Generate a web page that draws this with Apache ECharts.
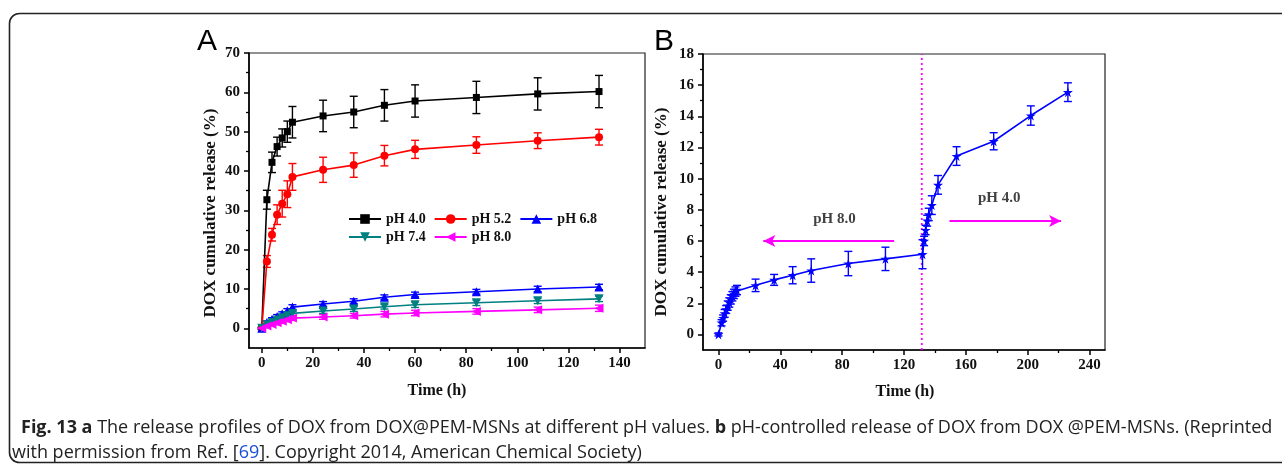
<!DOCTYPE html>
<html><head><meta charset="utf-8">
<script src="https://cdn.jsdelivr.net/npm/echarts@6/dist/echarts.min.js"></script>
<style>html,body{margin:0;padding:0;background:#fff}#c{width:1282px;height:470px}</style>
</head><body><div id="c"></div>
<script>
// ---------- Panel A data ----------
const timeA = [0, 2, 4, 6, 8, 10, 12, 24, 36, 48, 60, 84, 108, 132];
const ph40 = [0, 32.7, 42.2, 46.2, 48.4, 50.0, 52.4, 54.0, 55.0, 56.7, 57.8, 58.7, 59.6, 60.2];
const ph40Err = [0.3, 2.4, 2.6, 2.4, 2.3, 2.7, 4.0, 4.0, 4.0, 4.0, 4.1, 4.1, 4.1, 4.1];
const ph52 = [0, 17.0, 23.8, 28.9, 31.7, 34.1, 38.5, 40.3, 41.5, 43.9, 45.5, 46.6, 47.7, 48.6];
const ph52Err = [0.3, 1.5, 1.6, 2.5, 3.4, 3.4, 3.4, 3.2, 3.1, 2.6, 2.3, 2.1, 2.0, 2.0];
const ph68 = [0, 1.5, 2.3, 3.0, 3.7, 4.5, 5.4, 6.2, 6.9, 7.9, 8.6, 9.3, 10.0, 10.5];
const ph68Err = [0.2, 0.4, 0.4, 0.5, 0.5, 0.5, 0.6, 0.6, 0.6, 0.6, 0.6, 0.6, 0.7, 0.7];
const ph74 = [0, 0.9, 1.5, 2.1, 2.7, 3.2, 3.8, 4.4, 4.9, 5.5, 6.0, 6.5, 7.0, 7.5];
const ph74Err = [0.2, 0.4, 0.4, 0.5, 0.5, 0.5, 0.6, 0.6, 0.6, 0.6, 0.7, 0.7, 0.7, 0.7];
const ph80 = [0, 0.6, 1.0, 1.4, 1.8, 2.2, 2.6, 2.9, 3.2, 3.6, 3.9, 4.3, 4.7, 5.1];
const ph80Err = [0.2, 0.4, 0.4, 0.5, 0.5, 0.5, 0.6, 0.6, 0.6, 0.7, 0.7, 0.7, 0.7, 0.8];
const seriesNamesA = ['pH 4.0', 'pH 5.2', 'pH 6.8', 'pH 7.4', 'pH 8.0'];
const xTicksA = [0, 20, 40, 60, 80, 100, 120, 140];
const xMinorA = [10, 30, 50, 70, 90, 110, 130];
const yTicksA = [0, 10, 20, 30, 40, 50, 60, 70];
const yMinorA = [5, 15, 25, 35, 45, 55, 65];

// ---------- Panel B data ----------
const timeB = [0, 2, 3, 4, 5, 6, 7, 8, 9, 10, 11, 12, 24, 36, 48, 60, 84, 108, 132, 133, 134, 135, 136, 138, 142, 154, 178, 202, 226];
const releaseB = [0, 0.75, 1.05, 1.35, 1.6, 1.85, 2.05, 2.25, 2.45, 2.6, 2.75, 2.85, 3.15, 3.5, 3.8, 4.1, 4.55, 4.85, 5.15, 6.0, 6.7, 7.3, 7.7, 8.3, 9.6, 11.45, 12.4, 14.05, 15.55];
const errB = [0.1, 0.2, 0.2, 0.25, 0.25, 0.3, 0.3, 0.3, 0.3, 0.3, 0.3, 0.3, 0.4, 0.35, 0.55, 0.75, 0.78, 0.75, 0.93, 0.3, 0.3, 0.35, 0.4, 0.6, 0.6, 0.6, 0.55, 0.62, 0.6];
const xTicksB = [0, 40, 80, 120, 160, 200, 240];
const xMinorB = [20, 60, 100, 140, 180, 220];
const yTicksB = [0, 2, 4, 6, 8, 10, 12, 14, 16, 18];
const yMinorB = [1, 3, 5, 7, 9, 11, 13, 15, 17];
const switchTime = 131.5;
const arrowPH8 = [113.6, 29, 6.0];   // from x, to x, y
const arrowPH4 = [149.4, 221.6, 7.28];
const labelPH8 = [75, 7.4, 'pH 8.0'];
const labelPH4 = [181.6, 8.72, 'pH 4.0'];

const SERIF = '"Liberation Serif","Times New Roman",serif';
const colorsA = ['#000000', '#ff0000', '#0000ff', '#008080', '#ff00ff'];
const symbolsA = ['rect', 'circle', 'triangle', 'path://M0,0 L10,0 L5,9 Z', 'path://M0,5 L9,0 L9,10 Z'];
const symbolSizesA = [7, 8, 9, 9, 9];
const valsA = [ph40, ph52, ph68, ph74, ph80];
const errsA = [ph40Err, ph52Err, ph68Err, ph74Err, ph80Err];
const STAR = 'path://M50,0 L61,35 L98,35 L68,57 L79,91 L50,70 L21,91 L32,57 L2,35 L39,35 Z';

function errRender(color) {
  return function (params, api) {
    const x = api.value(0), y = api.value(1), e = api.value(2);
    const top = api.coord([x, y + e]), bot = api.coord([x, y - e]);
    const w = 4;
    const st = { stroke: color, lineWidth: 1.4 };
    return { type: 'group', children: [
      { type: 'line', shape: { x1: top[0], y1: top[1], x2: bot[0], y2: bot[1] }, style: st },
      { type: 'line', shape: { x1: top[0] - w, y1: top[1], x2: top[0] + w, y2: top[1] }, style: st },
      { type: 'line', shape: { x1: bot[0] - w, y1: bot[1], x2: bot[0] + w, y2: bot[1] }, style: st }
    ] };
  };
}

function mainX(grid, min, max, ticks) {
  return { type: 'value', gridIndex: grid, min: min, max: max, position: 'bottom',
    axisLine: { show: true, onZero: false, lineStyle: { color: '#000', width: 1.6 } },
    axisTick: { show: true, inside: false, length: 5, customValues: ticks, lineStyle: { color: '#000', width: 1.5 } },
    axisLabel: { show: true, customValues: ticks, margin: 8, color: '#111', fontFamily: SERIF, fontWeight: 'bold', fontSize: 15 },
    splitLine: { show: false } };
}
function minorX(grid, min, max, ticks) {
  return { type: 'value', gridIndex: grid, min: min, max: max, position: 'bottom',
    axisLine: { show: false, onZero: false },
    axisTick: { show: true, inside: false, length: 3, customValues: ticks, lineStyle: { color: '#000', width: 1.3 } },
    axisLabel: { show: false }, splitLine: { show: false } };
}
function mainY(grid, min, max, ticks) {
  return { type: 'value', gridIndex: grid, min: min, max: max, position: 'left',
    axisLine: { show: true, onZero: false, lineStyle: { color: '#000', width: 1.6 } },
    axisTick: { show: true, inside: false, length: 5, customValues: ticks, lineStyle: { color: '#000', width: 1.5 } },
    axisLabel: { show: true, customValues: ticks, margin: 9, color: '#111', fontFamily: SERIF, fontWeight: 'bold', fontSize: 15 },
    splitLine: { show: false } };
}
function minorY(grid, min, max, ticks) {
  return { type: 'value', gridIndex: grid, min: min, max: max, position: 'left',
    axisLine: { show: false, onZero: false },
    axisTick: { show: true, inside: false, length: 3, customValues: ticks, lineStyle: { color: '#000', width: 1.3 } },
    axisLabel: { show: false }, splitLine: { show: false } };
}

const series = [];
valsA.forEach(function (vals, i) {
  series.push({
    name: seriesNamesA[i], type: 'line', xAxisIndex: 0, yAxisIndex: 0,
    data: timeA.map(function (t, k) { return [t, vals[k]]; }),
    symbol: symbolsA[i], symbolSize: symbolSizesA[i],
    lineStyle: { color: colorsA[i], width: 1.6 }, itemStyle: { color: colorsA[i] },
    z: 3, animation: false
  });
  series.push({
    name: seriesNamesA[i] + ' err', type: 'custom', xAxisIndex: 0, yAxisIndex: 0,
    data: timeA.map(function (t, k) { return [t, vals[k], errsA[i][k]]; }),
    renderItem: errRender(colorsA[i]), z: 2, animation: false, silent: true
  });
});
// Panel B
series.push({
  name: 'B', type: 'line', xAxisIndex: 2, yAxisIndex: 2,
  data: timeB.map(function (t, k) { return [t, releaseB[k]]; }),
  symbol: STAR, symbolSize: 10,
  lineStyle: { color: '#0000ff', width: 1.6 }, itemStyle: { color: '#0000ff' }, z: 3, animation: false,
  markLine: {
    silent: true, animation: false, symbol: ['none', 'arrow'], symbolSize: [9, 12],
    lineStyle: { color: '#ff00ff', width: 2, type: 'solid' }, label: { show: false },
    data: [
      [{ coord: [arrowPH8[0], arrowPH8[2]] }, { coord: [arrowPH8[1], arrowPH8[2]] }],
      [{ coord: [arrowPH4[0], arrowPH4[2]] }, { coord: [arrowPH4[1], arrowPH4[2]] }]
    ]
  }
});
series.push({
  name: 'B err', type: 'custom', xAxisIndex: 2, yAxisIndex: 2,
  data: timeB.map(function (t, k) { return [t, releaseB[k], errB[k]]; }),
  renderItem: errRender('#0000ff'), z: 2, animation: false, silent: true
});
series.push({
  name: 'switch', type: 'line', xAxisIndex: 2, yAxisIndex: 2,
  data: [[switchTime, -1], [switchTime, 18]], symbol: 'none',
  lineStyle: { color: '#ff00ff', width: 1.8, type: [2, 3] }, z: 1, animation: false, silent: true
});
series.push({
  name: 'labels', type: 'scatter', xAxisIndex: 2, yAxisIndex: 2, symbolSize: 0,
  data: [labelPH8, labelPH4].map(function (d) { return { value: [d[0], d[1]], name: d[2] }; }),
  label: { show: true, position: 'inside', formatter: '{b}', color: '#111', fontFamily: SERIF, fontWeight: 'bold', fontSize: 15 },
  animation: false, silent: true
});

const legendBase = {
  orient: 'horizontal', itemWidth: 32, itemHeight: 12, itemGap: 8, padding: 0,
  textStyle: { color: '#111', fontFamily: SERIF, fontWeight: 'bold', fontSize: 14 }
};

const option = {
  backgroundColor: '#fff',
  animation: false,
  grid: [
    { left: 249, top: 53, width: 396, height: 295, show: true, borderColor: '#222', borderWidth: 1.2, backgroundColor: 'transparent' },
    { left: 703, top: 54, width: 402, height: 296, show: true, borderColor: '#222', borderWidth: 1.2, backgroundColor: 'transparent' }
  ],
  xAxis: [mainX(0, -5, 150, xTicksA), minorX(0, -5, 150, xMinorA), mainX(1, -10, 250, xTicksB), minorX(1, -10, 250, xMinorB)],
  yAxis: [mainY(0, -5, 70, yTicksA), minorY(0, -5, 70, yMinorA), mainY(1, -1, 18, yTicksB), minorY(1, -1, 18, yMinorB)],
  legend: [
    Object.assign({}, legendBase, { left: 348, top: 212, data: seriesNamesA.slice(0, 3) }),
    Object.assign({}, legendBase, { left: 348, top: 230, data: seriesNamesA.slice(3) })
  ],
  series: series,
  graphic: [
    { type: 'rect', shape: { x: 9.5, y: 13.5, width: 1300, height: 449, r: 10 }, style: { fill: 'none', stroke: '#222', lineWidth: 1.6 }, silent: true, z: -10 },
    { type: 'text', x: 197, y: 27, style: { text: 'A', fontFamily: '"Liberation Sans",Arial,sans-serif', fontSize: 30, fill: '#000' } },
    { type: 'text', x: 654, y: 27, style: { text: 'B', fontFamily: '"Liberation Sans",Arial,sans-serif', fontSize: 30, fill: '#000' } },
    { type: 'text', x: 211, y: 213, rotation: Math.PI / 2, style: { text: 'DOX cumulative release (%)', align: 'center', verticalAlign: 'middle', fontFamily: SERIF, fontWeight: 'bold', fontSize: 17, fill: '#111' } },
    { type: 'text', x: 662, y: 212, rotation: Math.PI / 2, style: { text: 'DOX cumulative release (%)', align: 'center', verticalAlign: 'middle', fontFamily: SERIF, fontWeight: 'bold', fontSize: 17, fill: '#111' } },
    { type: 'text', x: 437, y: 391, style: { text: 'Time (h)', align: 'center', verticalAlign: 'middle', fontFamily: SERIF, fontWeight: 'bold', fontSize: 16, fill: '#111' } },
    { type: 'text', x: 905, y: 392, style: { text: 'Time (h)', align: 'center', verticalAlign: 'middle', fontFamily: SERIF, fontWeight: 'bold', fontSize: 16, fill: '#111' } },
    { type: 'text', x: 21, y: 428, style: {
      text: '{b|Fig. 13 a} The release profiles of DOX from DOX@PEM-MSNs at different pH values. {b|b} pH-controlled release of DOX from DOX @PEM-MSNs. (Reprinted',
      verticalAlign: 'middle', fontFamily: '"Open Sans",sans-serif', fontSize: 18, fill: '#222',
      rich: { b: { fontFamily: '"Open Sans",sans-serif', fontWeight: 'bold', fontSize: 18, fill: '#222' } } } },
    { type: 'text', x: 12, y: 453, style: {
      text: 'with permission from Ref. [{l|69}]. Copyright 2014, American Chemical Society)',
      verticalAlign: 'middle', fontFamily: '"Open Sans",sans-serif', fontSize: 18, fill: '#222',
      rich: { l: { fontFamily: '"Open Sans",sans-serif', fontSize: 18, fill: '#1a4fd6' } } } }
  ]
};
const chart = echarts.init(document.getElementById('c'), null, { renderer: 'canvas' });
chart.setOption(option);
</script></body></html>
